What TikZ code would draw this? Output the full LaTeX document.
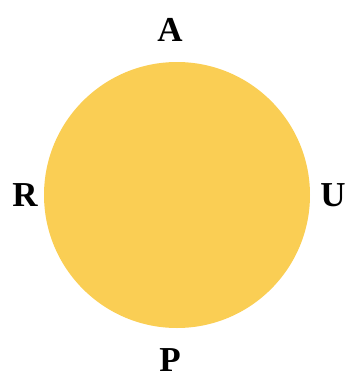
\documentclass[tikz,border=0pt]{standalone}
\usepackage{fontspec}
\setmainfont{Liberation Serif}
\definecolor{sun}{RGB}{250,206,84}
\begin{document}
\begin{tikzpicture}[x=1pt,y=-1pt,
  lbl/.style={font=\fontsize{35}{40}\selectfont\bfseries, inner sep=0pt, anchor=center}]
\useasboundingbox (0,0) rectangle (350,378);
\fill[sun] (177,195) circle[radius=133];
\node[lbl] (A) at (170,30) {A};
\node[lbl] (R) at (25,195) {R};
\node[lbl] (U) at (333,195) {U};
\node[lbl] (P) at (170,360) {P};
\end{tikzpicture}
\end{document}
